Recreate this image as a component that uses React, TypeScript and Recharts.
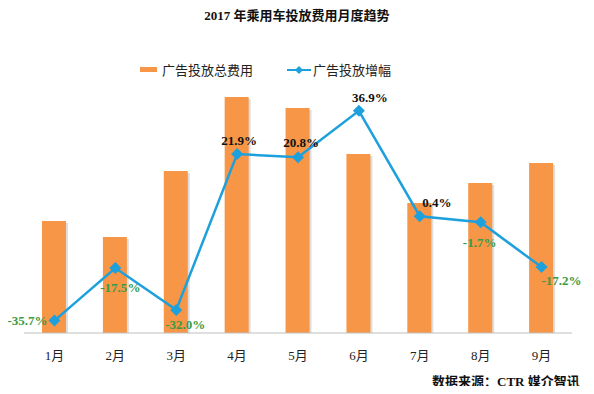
import { Bar, ComposedChart, LabelList, Line, XAxis, YAxis } from "recharts";

const months = ["1月", "2月", "3月", "4月", "5月", "6月", "7月", "8月", "9月"];
const spend = [112, 96, 162, 236, 225, 179, 130, 150, 170];
const growth = [-35.7, -17.5, -32.0, 21.9, 20.8, 36.9, 0.4, -1.7, -17.2];

const data = months.map((m, i) => ({ month: m, spend: spend[i], growth: growth[i] }));

const ORANGE = "#f79646";
const BLUE = "#1ea0dc";
const GREEN = "#3a9a46";
const SERIF = "'Times New Roman', 'Liberation Serif', 'Noto Sans CJK SC', serif";

// where each growth label sits relative to its point
const labelShift: [number, number][] = [
  [-27, 0], [5, 20], [9, 15], [2, -14], [3, -15], [11, -13], [17, -14], [-1, 20], [20, 13],
];

function ShadowBar(props: any) {
  const { x, y, width, height } = props;
  if (!height) return null;
  return (
    <g>
      <rect x={x + 2} y={y + 2} width={width} height={height - 2} fill="#c8c8c8" opacity={0.6} />
      <rect x={x} y={y} width={width} height={height} fill={ORANGE} />
    </g>
  );
}

function Diamond(props: any) {
  const { cx, cy } = props;
  if (cx == null) return null;
  const r = 6;
  return <path d={`M${cx},${cy - r}L${cx + r},${cy}L${cx},${cy + r}L${cx - r},${cy}Z`} fill={BLUE} />;
}

function GrowthLabel(props: any) {
  const { x, y, value, index } = props;
  const [dx, dy] = labelShift[index];
  return (
    <text
      x={x + dx}
      y={y + dy}
      textAnchor="middle"
      dominantBaseline="central"
      fontFamily={SERIF}
      fontWeight="bold"
      fontSize={13}
      fill={value < 0 ? GREEN : "#111"}
    >
      {value.toFixed(1)}%
    </text>
  );
}

export default function App() {
  return (
    <div style={{ position: "relative", width: 594, height: 394, margin: -8, background: "#fff", fontFamily: SERIF, overflow: "hidden" }}>
      <ComposedChart
        width={594}
        height={394}
        data={data}
        margin={{ top: 44, right: 22, bottom: 31, left: 24 }}
      >
        <XAxis
          dataKey="month"
          axisLine={{ stroke: "#bfbfbf" }}
          tickLine={false}
          tickMargin={12}
          tick={{ fontSize: 13, fill: "#222", fontFamily: SERIF }}
          height={30}
        />
        <YAxis yAxisId="left" hide domain={[0, 289]} />
        <YAxis yAxisId="right" hide orientation="right" domain={[-40, 60]} />
        <Bar yAxisId="left" dataKey="spend" barSize={24} shape={<ShadowBar />} isAnimationActive={false} />
        <Line
          yAxisId="right"
          dataKey="growth"
          stroke={BLUE}
          strokeWidth={2.5}
          dot={<Diamond />}
          activeDot={false}
          isAnimationActive={false}
        >
          <LabelList dataKey="growth" content={<GrowthLabel />} />
        </Line>
      </ComposedChart>
      <div style={{ position: "absolute", top: 8, left: 0, width: 594, textAlign: "center", fontSize: 13, lineHeight: "16px", fontWeight: "bold", color: "#111" }}>
        2017 年乘用车投放费用月度趋势
      </div>
      <div style={{ position: "absolute", top: 60, left: 140, display: "flex", alignItems: "center", fontSize: 13, color: "#222" }}>
        <span style={{ display: "inline-block", width: 17, height: 5, background: ORANGE, marginRight: 5 }} />
        <span>广告投放总费用</span>
        <svg width={24} height={12} style={{ marginLeft: 34, marginRight: 2 }}>
          <line x1={0} y1={6} x2={24} y2={6} stroke={BLUE} strokeWidth={2} />
          <path d="M12,2L16,6L12,10L8,6Z" fill={BLUE} />
        </svg>
        <span>广告投放增幅</span>
      </div>
      <div style={{ position: "absolute", top: 374, left: 432, fontSize: 13, lineHeight: "16px", fontWeight: "bold", color: "#111" }}>
        数据来源：CTR 媒介智讯
      </div>
    </div>
  );
}
